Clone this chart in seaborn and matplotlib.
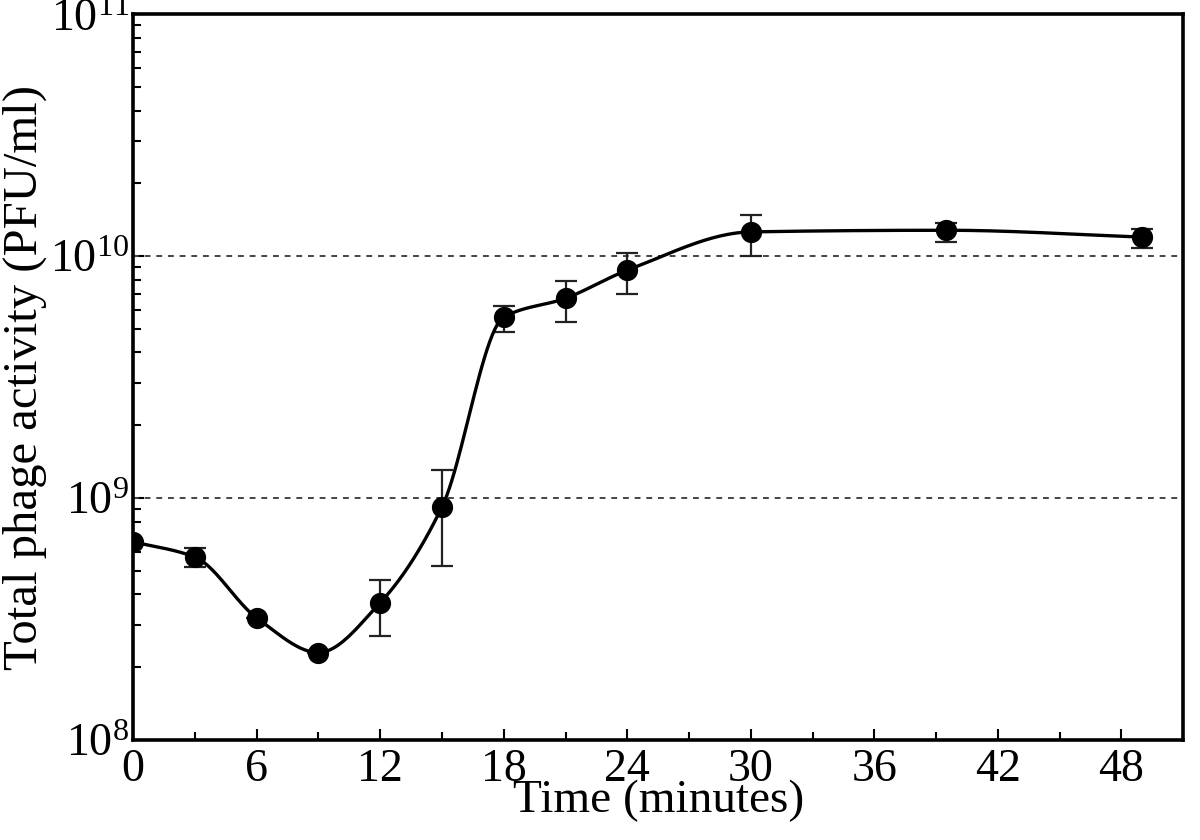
import numpy as np
import pandas as pd
import matplotlib
matplotlib.use("Agg")
import matplotlib.pyplot as plt
import matplotlib.ticker as mticker
import seaborn as sns

# values
time_min = [0, 3, 6, 9, 12, 15, 18, 21, 24, 30, 39.5, 49]
pfu = [6.6e8, 5.7e8, 3.2e8, 2.3e8, 3.7e8, 9.2e8, 5.6e9, 6.7e9, 8.75e9, 1.26e10, 1.28e10, 1.2e10]
err_low = [6.6e8, 5.2e8, 3.2e8, 2.3e8, 2.7e8, 5.25e8, 4.85e9, 5.35e9, 7.0e9, 1.0e10, 1.14e10, 1.08e10]
err_high = [6.6e8, 6.2e8, 3.2e8, 2.3e8, 4.6e8, 1.31e9, 6.2e9, 7.9e9, 1.03e10, 1.48e10, 1.37e10, 1.29e10]

df = pd.DataFrame({"time": time_min, "pfu": pfu, "lo": err_low, "hi": err_high})


def pchip(x, y, xs):
    x = np.asarray(x, float)
    y = np.asarray(y, float)
    h = np.diff(x)
    d = np.diff(y) / h
    n = len(x)
    m = np.zeros(n)
    m[0], m[-1] = d[0], d[-1]
    for k in range(1, n - 1):
        if d[k - 1] * d[k] > 0:
            w1 = 2 * h[k] + h[k - 1]
            w2 = h[k] + 2 * h[k - 1]
            m[k] = (w1 + w2) / (w1 / d[k - 1] + w2 / d[k])
    idx = np.clip(np.searchsorted(x, xs) - 1, 0, n - 2)
    t = (xs - x[idx]) / h[idx]
    h00 = 2 * t**3 - 3 * t**2 + 1
    h10 = t**3 - 2 * t**2 + t
    h01 = -2 * t**3 + 3 * t**2
    h11 = t**3 - t**2
    return h00 * y[idx] + h10 * h[idx] * m[idx] + h01 * y[idx + 1] + h11 * h[idx] * m[idx + 1]


xs = np.linspace(df.time.min(), df.time.max(), 400)
curve = pd.DataFrame({"time": xs, "pfu": 10 ** pchip(df.time, np.log10(df.pfu), xs)})

sns.set_style("ticks")
plt.rcParams["font.family"] = ["Liberation Serif", "DejaVu Serif"]
plt.rcParams["mathtext.fontset"] = "custom"
plt.rcParams["mathtext.rm"] = "Liberation Serif"
plt.rcParams["mathtext.it"] = "Liberation Serif:italic"
plt.rcParams["text.color"] = "black"
plt.rcParams["axes.labelcolor"] = "black"
plt.rcParams["xtick.color"] = "black"
plt.rcParams["ytick.color"] = "black"

fig = plt.figure(figsize=(12, 8.4), dpi=100)
ax = fig.add_axes([0.111, 0.119, 0.875, 0.864])

ax.axhline(1e9, color="#444444", ls=(0, (3, 3)), lw=1.4, zorder=1)
ax.axhline(1e10, color="#444444", ls=(0, (3, 3)), lw=1.4, zorder=1)

sns.lineplot(data=curve, x="time", y="pfu", color="black", lw=2.4, ax=ax, zorder=3)
ax.errorbar(df.time, df.pfu, yerr=[df.pfu - df.lo, df.hi - df.pfu], fmt="none",
            ecolor="#222222", elinewidth=1.6, capsize=8, capthick=1.6, zorder=2)
sns.scatterplot(data=df, x="time", y="pfu", color="black", s=200, marker="o",
                edgecolor="black", ax=ax, zorder=4)

ax.set_yscale("log")
ax.set_ylim(1e8, 1e11)
ax.set_xlim(0, 51)
ax.xaxis.set_major_locator(mticker.MultipleLocator(6))
ax.xaxis.set_minor_locator(mticker.MultipleLocator(3))
ax.yaxis.set_major_locator(mticker.LogLocator(base=10, numticks=10))
ax.yaxis.set_minor_locator(mticker.LogLocator(base=10, subs=np.arange(2, 10), numticks=10))
ax.yaxis.set_major_formatter(mticker.LogFormatterMathtext())
ax.yaxis.set_minor_formatter(mticker.NullFormatter())

ax.tick_params(axis="both", which="both", direction="in", width=1.5, labelsize=33)
ax.tick_params(axis="both", which="major", length=8, pad=3)
ax.tick_params(axis="both", which="minor", length=6)
ax.tick_params(axis="x", which="major", pad=6)

for s in ax.spines.values():
    s.set_linewidth(2.6)
    s.set_color("black")

ax.set_xlabel("Time (minutes)", fontsize=34, labelpad=-8)
ax.set_ylabel("Total phage activity (PFU/ml)", fontsize=35, labelpad=2)

fig.savefig("out.png", dpi=100, facecolor="white")
